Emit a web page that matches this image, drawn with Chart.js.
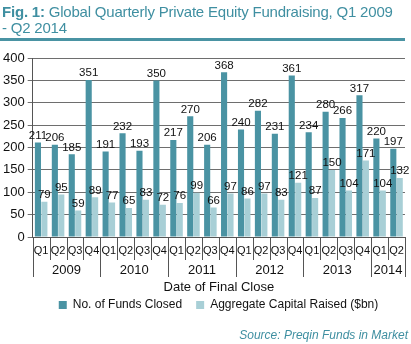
<!DOCTYPE html>
<html>
<head>
<meta charset="utf-8">
<script src="https://cdn.jsdelivr.net/npm/chart.js@4"></script>
<style>
  html,body{margin:0;padding:0;background:#fff;}
  #wrap{position:relative;width:411px;height:344px;overflow:hidden;}
  #title{position:absolute;left:2px;top:4px;white-space:nowrap;font:15px "Liberation Sans",Arial,sans-serif;letter-spacing:-0.2px;color:#3f8fa1;line-height:16px;}
  #title b{font-weight:bold;}
  #rule{position:absolute;left:0;top:38px;width:405px;height:3px;background:#4a93a3;}
  #source{position:absolute;right:3px;top:328px;font:italic 12px "Liberation Sans",Arial,sans-serif;color:#3f8fa1;}
  canvas{position:absolute;left:0;top:0;}
</style>
</head>
<body>
<div id="wrap">
  <canvas id="chart" width="411" height="344"></canvas>
  <div id="title"><b>Fig. 1:</b> Global Quarterly Private Equity Fundraising, Q1 2009<br>- Q2 2014</div>
  <div id="rule"></div>
  <div id="source">Source: Preqin Funds in Market</div>
</div>
<script>
// ---- data ----
const quarters = ['Q1','Q2','Q3','Q4','Q1','Q2','Q3','Q4','Q1','Q2','Q3','Q4',
                  'Q1','Q2','Q3','Q4','Q1','Q2','Q3','Q4','Q1','Q2'];
const years      = ['2009','2010','2011','2012','2013','2014'];
const yearCounts = [4,4,4,4,4,2];
const fundsClosed    = [211,206,185,351,191,232,193,350,217,270,206,368,240,282,231,361,234,280,266,317,220,197];
const capitalRaised  = [79,95,59,89,77,65,83,72,76,99,66,97,86,97,83,121,87,150,104,171,104,132];
const yTicks = [0,50,100,150,200,250,300,350,400];
const xTitle = 'Date of Final Close';

const DARK = '#4a93a3', LIGHT = '#a8cfd6';
const FONT = '"Liberation Sans", Arial, sans-serif';

// value labels above each bar
const valueLabels = {
  id:'valueLabels',
  afterDatasetsDraw(chart){
    const ctx = chart.ctx;
    ctx.save();
    ctx.font = '11.5px ' + FONT;
    ctx.fillStyle = '#111';
    ctx.textAlign = 'center';
    ctx.textBaseline = 'bottom';
    chart.data.datasets.forEach((ds,i)=>{
      chart.getDatasetMeta(i).data.forEach((bar,j)=>{
        ctx.fillText(ds.data[j], bar.x, bar.y - 1);
      });
    });
    ctx.restore();
  }
};

// quarter separators, year groups and axis title under the axis
const yearAxis = {
  id:'yearAxis',
  afterLayout(chart){
    // legend sits centred under the plot, not the whole canvas
    if(chart.legend) chart.legend.left += 32;
  },
  afterDraw(chart){
    const x = chart.scales.x, area = chart.chartArea, ctx = chart.ctx;
    const half = (x.getPixelForValue(1) - x.getPixelForValue(0)) / 2;
    ctx.save();
    ctx.strokeStyle = '#555';
    ctx.lineWidth = 1;
    for(let i=0;i<=quarters.length;i++){
      const px = Math.round(x.getPixelForValue(i) - half) + 0.5;
      ctx.beginPath(); ctx.moveTo(px, area.bottom); ctx.lineTo(px, area.bottom + 23); ctx.stroke();
    }
    ctx.font = '13px ' + FONT;
    ctx.fillStyle = '#111';
    ctx.textAlign = 'center';
    ctx.textBaseline = 'middle';
    let idx = 0;
    years.forEach((yr,k)=>{
      const left = x.getPixelForValue(idx) - half;
      const right = x.getPixelForValue(idx + yearCounts[k] - 1) + half;
      [left,right].forEach(p=>{
        const px = Math.round(p) + 0.5;
        ctx.beginPath(); ctx.moveTo(px, area.bottom); ctx.lineTo(px, area.bottom + 40); ctx.stroke();
      });
      ctx.fillText(yr, (left + right) / 2, area.bottom + 33);
      idx += yearCounts[k];
    });
    ctx.fillText(xTitle, (area.left + area.right) / 2, area.bottom + 50);
    ctx.restore();
  }
};

new Chart(document.getElementById('chart'), {
  type:'bar',
  data:{
    labels: quarters,
    datasets:[
      {label:'No. of Funds Closed', data:fundsClosed, backgroundColor:DARK},
      {label:'Aggregate Capital Raised ($bn)', data:capitalRaised, backgroundColor:LIGHT}
    ]
  },
  options:{
    responsive:false,
    animation:false,
    datasets:{bar:{categoryPercentage:0.76, barPercentage:0.95}},
    layout:{padding:{top:58, right:6, bottom:23, left:0}},
    plugins:{
      legend:{
        position:'bottom',
        labels:{font:{family:FONT,size:12}, color:'#111', boxWidth:8, boxHeight:8, padding:14}
      },
      tooltip:{enabled:false}
    },
    scales:{
      x:{
        grid:{display:false, drawTicks:false},
        border:{color:'#555'},
        ticks:{font:{family:FONT,size:11}, color:'#111', padding:7, maxRotation:0, autoSkip:false},
        afterFit(scale){ scale.height = 48; }
      },
      y:{
        min:0, max:400,
        afterBuildTicks(axis){ axis.ticks = yTicks.map(v=>({value:v})); },
        grid:{color:'#6e6e6e', tickLength:5},
        border:{color:'#555'},
        ticks:{font:{family:FONT,size:13}, color:'#111', padding:3}
      }
    }
  },
  plugins:[valueLabels, yearAxis]
});
</script>
</body>
</html>
